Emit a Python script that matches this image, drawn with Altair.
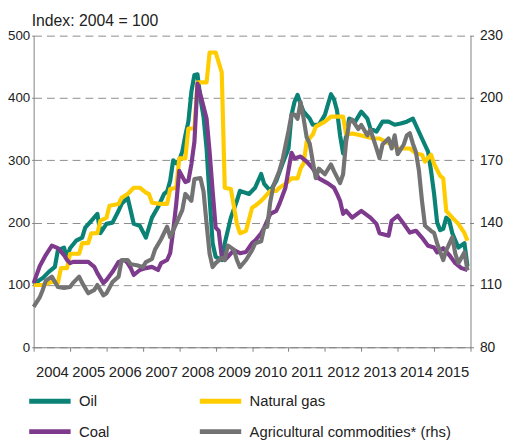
import altair as alt
import pandas as pd

# ---------------- data (Index: Jan 2004 = 100) ----------------
oil_dates = ["2004-01","2004-03","2004-04","2004-06","2004-08","2004-09","2004-11","2004-12",
             "2005-01","2005-03","2005-05","2005-06","2005-08","2005-10","2005-11",
             "2006-01","2006-03","2006-05","2006-06","2006-08","2006-09","2006-10","2006-12",
             "2007-02","2007-04","2007-06","2007-08","2007-09","2007-10","2007-11","2007-12",
             "2008-01","2008-02","2008-03","2008-04","2008-05","2008-06","2008-07","2008-08","2008-09","2008-10","2008-11","2008-12",
             "2009-01","2009-03","2009-04","2009-06","2009-08","2009-09","2009-12",
             "2010-02","2010-04","2010-05","2010-07","2010-09","2010-11",
             "2011-01","2011-02","2011-03","2011-04","2011-05","2011-06","2011-08","2011-09","2011-11",
             "2012-01","2012-03","2012-04","2012-05","2012-06","2012-07","2012-09","2012-11",
             "2013-01","2013-03","2013-04","2013-06","2013-08","2013-10","2013-12",
             "2014-02","2014-04","2014-06","2014-09","2014-11","2014-12",
             "2015-01","2015-02","2015-03","2015-04","2015-05","2015-06","2015-07","2015-09","2015-11","2015-12"]
oil_vals = [100,108,111,121,129,156,160,144,
            159,171,176,192,203,214,183,
            198,200,219,230,240,219,198,195,
            176,208,225,246,250,267,300,295,
            300,314,340,362,410,437,438,398,370,319,240,167,
            145,140,167,208,235,251,246,
            256,278,262,251,267,294,
            319,373,394,405,390,378,367,357,357,
            373,406,398,380,340,311,367,362,
            378,367,351,346,362,362,357,
            359,362,367,335,314,283,
            246,200,188,190,208,203,183,160,167,130]

gas_dates = ["2004-01","2004-04","2004-07","2004-09","2004-10","2004-12",
             "2005-01","2005-04","2005-05","2005-07","2005-08","2005-10","2005-11",
             "2006-01","2006-02","2006-05","2006-06","2006-08","2006-10","2006-12",
             "2007-02","2007-03","2007-04","2007-07","2007-09","2007-10","2007-12",
             "2008-01","2008-03","2008-04","2008-06","2008-07","2008-10","2008-11",
             "2009-01","2009-03","2009-04","2009-06","2009-08","2009-09","2009-11",
             "2010-01","2010-02","2010-04","2010-05","2010-07","2010-09","2010-10","2010-12",
             "2011-02","2011-04","2011-05","2011-06","2011-07","2011-09","2011-10",
             "2012-01","2012-03","2012-07","2012-08","2012-10","2012-12",
             "2013-05","2013-07","2013-09","2013-11",
             "2014-01","2014-05","2014-07","2014-09","2014-10","2014-12",
             "2015-01","2015-03","2015-04","2015-05","2015-07","2015-09","2015-11","2015-12"]
gas_vals = [100,100,105,103,127,127,
            150,150,167,167,183,183,203,
            208,227,230,240,246,256,256,
            248,246,232,230,230,254,256,
            303,303,351,351,425,425,473,
            473,441,256,254,198,183,187,
            224,227,235,240,251,251,256,262,
            271,271,287,295,330,341,354,
            362,370,370,341,343,341,
            335,335,330,325,
            319,319,311,309,298,309,
            294,275,271,219,208,198,183,171]

coal_dates = ["2004-01","2004-03","2004-05","2004-07","2004-09","2004-11","2004-12",
              "2005-01","2005-02","2005-05","2005-07","2005-09","2005-10","2005-12",
              "2006-01","2006-03","2006-05","2006-07","2006-08","2006-09","2006-10","2006-12",
              "2007-02","2007-04","2007-06","2007-07","2007-09","2007-10","2007-11","2007-12",
              "2008-01","2008-03","2008-04","2008-05","2008-06","2008-07","2008-08","2008-10","2008-11","2008-12",
              "2009-01","2009-02","2009-03","2009-04","2009-05","2009-07","2009-09","2009-11",
              "2010-01","2010-02","2010-04","2010-05","2010-07","2010-09","2010-10","2010-12",
              "2011-02","2011-03","2011-05","2011-07","2011-09","2011-11",
              "2012-02","2012-04","2012-05","2012-06","2012-07","2012-08","2012-10",
              "2013-01","2013-04","2013-06","2013-07","2013-10","2013-11",
              "2014-01","2014-03","2014-05","2014-07","2014-09","2014-11",
              "2015-01","2015-02","2015-04","2015-06","2015-08","2015-10","2015-12"]
coal_vals = [103,130,148,163,159,148,140,
             135,137,137,137,129,119,103,
             108,121,137,140,135,127,116,124,
             127,129,124,135,140,151,187,230,
             283,265,267,294,330,423,405,367,314,251,
             192,187,145,140,145,156,151,153,
             167,171,183,192,214,219,230,256,
             312,303,306,298,287,271,
             263,256,246,235,214,219,208,
             219,208,198,183,179,203,
             211,198,184,187,176,163,
             160,152,159,148,135,127,124]

agri_dates = ["2004-01","2004-03","2004-04","2004-05","2004-07","2004-09","2004-11",
              "2005-01","2005-02","2005-04","2005-05","2005-07","2005-09","2005-10","2005-12",
              "2006-01","2006-03","2006-05","2006-06","2006-08","2006-09","2006-11",
              "2007-01","2007-02","2007-04","2007-05","2007-07","2007-09","2007-10","2007-12",
              "2008-02","2008-03","2008-05","2008-06","2008-08","2008-09","2008-10","2008-11","2008-12",
              "2009-01","2009-03","2009-04","2009-05","2009-07","2009-08","2009-09","2009-11",
              "2010-01","2010-02","2010-04","2010-05","2010-06","2010-07","2010-08","2010-10","2010-11","2010-12",
              "2011-01","2011-02","2011-03","2011-04","2011-05","2011-06","2011-07","2011-08","2011-09","2011-10","2011-11",
              "2012-01","2012-03","2012-04","2012-06","2012-07","2012-08","2012-09","2012-10","2012-12",
              "2013-01","2013-03","2013-04","2013-06","2013-07","2013-08","2013-10","2013-11","2013-12",
              "2014-01","2014-03","2014-04","2014-05","2014-06","2014-07","2014-08","2014-09","2014-10","2014-12",
              "2015-01","2015-02","2015-04","2015-05","2015-07","2015-08","2015-09","2015-11","2015-12"]
agri_vals = [99.5,104,107.6,112,114,109,108.6,
             109,111,114,111,106,107.6,110,105,
             106,111.4,114,122,122,120,119.5,
             118.6,121,122.5,127,132,138,133,139.5,
             146,153.8,150.5,161,161.4,155,139.5,125,118.6,
             120.5,123,122,129,127,122,118.6,122,
             126.7,130,131,137.6,138,150,157.6,165,170,177,
             184,192,192,190,198,190,181,178,169.5,161.4,166,
             163.3,168,164.8,159,163.3,179,188,189.5,185,
             187,182,184.8,175.7,171,177.6,180.5,175.7,182,
             173,177.6,182,183,178,174,165,150.5,138.5,136,
             135,130,122,126.7,133,125,120.5,125.7,117]

# legend is filled column by column: (Oil, Coal) | (Natural gas, Agricultural ...)
series_names = ["Oil", "Coal", "Natural gas", "Agricultural commodities* (rhs)"]
series_colors = ["#0A8276", "#7E3A8C", "#FFCC00", "#737373"]
left_ticks = [0, 100, 200, 300, 400, 500]
right_ticks = [80, 110, 140, 170, 200, 230]
year_ticks = list(range(2004, 2017))

def frame(dates, vals, name):
    d = pd.DataFrame({"date": dates, "value": vals})
    d["t"] = d["date"].str.slice(0, 4).astype(int) + (d["date"].str.slice(5, 7).astype(int) - 1) / 12.0
    d["series"] = name
    return d

lhs = pd.concat([frame(oil_dates, oil_vals, "Oil"),
                 frame(gas_dates, gas_vals, "Natural gas"),
                 frame(coal_dates, coal_vals, "Coal")], ignore_index=True)
rhs = frame(agri_dates, agri_vals, "Agricultural commodities* (rhs)")

FONT = "Liberation Sans"
TXT = "#222222"
AX = "#808080"

x_enc = alt.X("t:Q", scale=alt.Scale(domain=[2004, 2016], nice=False, zero=False),
              axis=alt.Axis(values=year_ticks, format="d",
                            labelExpr="datum.value >= 2016 ? '' : datum.label",
                            labelOffset=18.5, labelFlush=False, labelOverlap=False,
                            labelFontSize=15,
                            tickSize=4, tickColor=AX, domainColor=AX, grid=False,
                            labelPadding=14, title=None))

color_enc = alt.Color("series:N",
                      scale=alt.Scale(domain=series_names, range=series_colors),
                      sort=series_names,
                      legend=alt.Legend(orient="none", legendX=-12, legendY=363, columns=2,
                                        symbolType="M0,0H8.4", symbolStrokeWidth=5, symbolSize=100,
                                        labelFontSize=15, labelFont=FONT, labelColor=TXT,
                                        labelOffset=43, columnPadding=81, rowPadding=10,
                                        labelLimit=400, title=None))

left = alt.Chart(lhs).mark_line(strokeWidth=4.2, strokeJoin="round").encode(
    x=x_enc,
    y=alt.Y("value:Q", scale=alt.Scale(domain=[0, 500], nice=False),
            axis=alt.Axis(values=left_ticks, grid=True, gridDash=[8, 5], gridColor="#8c8c8c",
                          gridWidth=1, tickSize=2, tickColor=AX, domainColor=AX,
                          labelFontSize=13.5, labelPadding=2, title=None, orient="left")),
    color=color_enc,
    detail="series:N",
)

right = alt.Chart(rhs).mark_line(strokeWidth=4.2, strokeJoin="round").encode(
    x=x_enc,
    y=alt.Y("value:Q", scale=alt.Scale(domain=[80, 230], nice=False, zero=False),
            axis=alt.Axis(values=right_ticks, grid=False, tickSize=3, tickColor=AX,
                          domainColor=AX, labelFontSize=14, labelPadding=6, title=None,
                          orient="right")),
    color=alt.Color("series:N", scale=alt.Scale(domain=series_names, range=series_colors),
                    sort=series_names, legend=None),
)

chart = alt.layer(left, right).resolve_scale(y="independent").properties(
    width=443, height=316,
    autosize=alt.AutoSizeParams(type="none"),
    padding={"left": 26, "top": 25, "right": 37, "bottom": 92},
    title=alt.Title("Index: 2004 = 100", anchor="start", frame="group", fontSize=16,
                    fontWeight="normal", font=FONT, color=TXT, offset=9, dx=-2, dy=9),
).configure_axis(
    labelFont=FONT, labelColor=TXT,
).configure_view(stroke=None)

chart.save("out.html", embed_options={"renderer": "svg", "actions": False})
